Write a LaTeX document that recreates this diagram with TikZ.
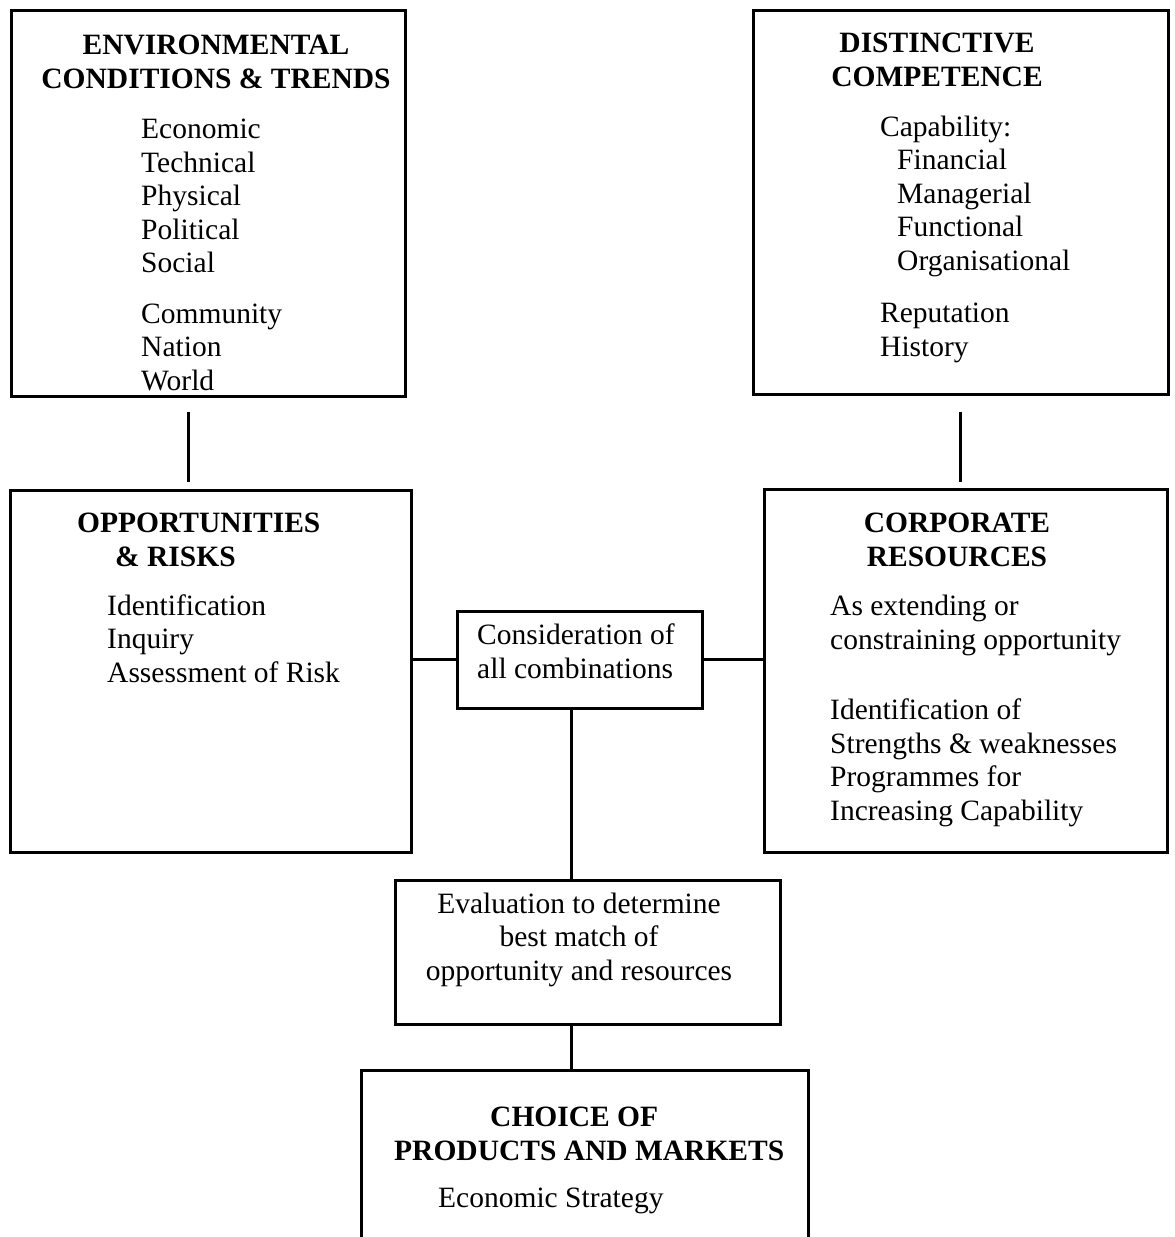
\documentclass[tikz,border=0pt]{standalone}
\usepackage{fontspec}
\setmainfont{Liberation Serif}
\tikzset{
    panel/.style={rectangle, draw=black, line width=3pt, inner sep=0pt},
    heading/.style={font=\fontsize{29.5}{33.5}\selectfont\bfseries, align=center, anchor=base, inner sep=0pt},
    entries/.style={font=\fontsize{29.5}{33.5}\selectfont, align=left, anchor=base west, inner sep=0pt},
    link/.style={line width=3pt, color=black},
}

\begin{document}
\begin{tikzpicture}[x=1pt, y=-1pt]
    \useasboundingbox (0,0) rectangle (1175,1237);
    \clip (0,0) rectangle (1175,1237);

    % boxes
    \node[panel, minimum width=394pt, minimum height=386pt] (env) at (208,203) {};
    \node[panel, minimum width=415pt, minimum height=384pt] (dist) at (960.5,202) {};
    \node[panel, minimum width=401pt, minimum height=362pt] (opp) at (210.5,671) {};
    \node[panel, minimum width=403pt, minimum height=363pt] (corp) at (965.5,670.5) {};
    \node[panel, minimum width=245pt, minimum height=97pt] (cons) at (579.5,659.5) {};
    \node[panel, minimum width=385pt, minimum height=144pt] (eval) at (587.5,952) {};
    \node[panel, minimum width=447pt, minimum height=230pt] (choice) at (584.5,1185) {};

    % texts (anchored on the baseline of the last line)
    \node[heading] (envhead) at (216,88) {ENVIRONMENTAL\\CONDITIONS \& TRENDS};
    \node[entries] (envlist) at (141,390) {Economic\\Technical\\Physical\\Political\\Social\\[17pt]Community\\Nation\\World};

    \node[heading] (disthead) at (937,86) {DISTINCTIVE\\COMPETENCE};
    \node[entries] (distlist) at (880,356) {Capability:\\\hspace*{17pt}Financial\\\hspace*{17pt}Managerial\\\hspace*{17pt}Functional\\\hspace*{17pt}Organisational\\[19pt]Reputation\\History};

    \node[heading, align=left, anchor=base west] (opphead) at (77,566) {OPPORTUNITIES\\\hspace*{38pt}\& RISKS};
    \node[entries] (opplist) at (107,682) {Identification\\Inquiry\\Assessment of Risk};

    \node[heading] (corphead) at (957,566) {CORPORATE\\RESOURCES};
    \node[entries] (corplist) at (830,820) {As extending or\\constraining opportunity\\[37pt]Identification of\\Strengths \& weaknesses\\Programmes for\\Increasing Capability};

    \node[entries] (constext) at (477,678) {Consideration of\\all combinations};

    \node[heading, font=\fontsize{29.5}{33.5}\selectfont] (evaltext) at (579,980) {Evaluation to determine\\best match of\\opportunity and resources};

    \node[heading, align=left, anchor=base west] (choicehead) at (394,1160) {\hspace*{96pt}CHOICE OF\\PRODUCTS AND MARKETS};
    \node[entries] (choicelist) at (438,1207) {Economic Strategy};

    % connectors
    \coordinate (spine) at (571,0);
    \draw[link, shorten <=14pt, shorten >=7pt] ([xshift=-20pt]env.south) -- ([xshift=-20pt]env.south |- opp.north);
    \draw[link, shorten <=16pt, shorten >=6pt] (dist.south) -- (dist.south |- corp.north);
    \draw[link] (cons.west) -- (cons.west -| opp.east);
    \draw[link] (cons.east) -- (cons.east -| corp.west);
    \draw[link] (cons.south -| spine) -- (eval.north -| spine);
    \draw[link] (eval.south -| spine) -- (choice.north -| spine);
\end{tikzpicture}
\end{document}
